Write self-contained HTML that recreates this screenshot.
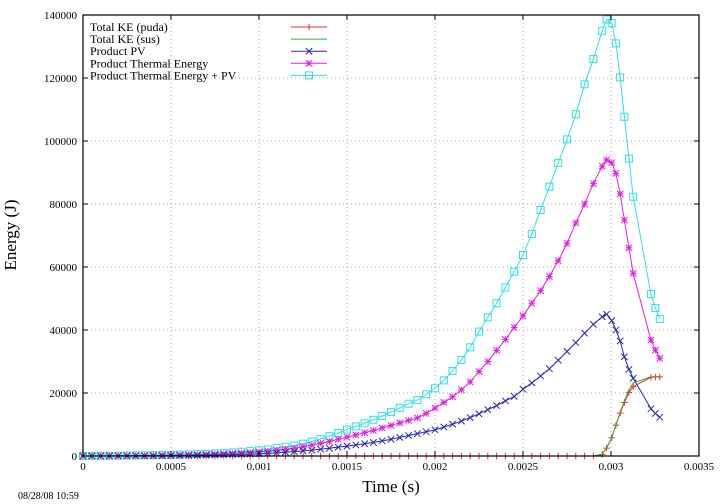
<!DOCTYPE html>
<html><head><meta charset="utf-8"><style>
body{margin:0;background:#fff}
svg{display:block;font-family:"Liberation Serif",serif}
</style></head><body>
<svg id="chart" width="720" height="504" viewBox="0 0 720 504">
<g id="grid"></g>
<g id="series"></g>
<rect x="83" y="15" width="616" height="441" fill="none" stroke="#000" stroke-width="1.2"/>
<g id="ticks"></g>
<text x="16" y="235" font-size="17" text-anchor="middle" transform="rotate(-90 16 235)">Energy (J)</text>
<text x="391" y="492" font-size="17" text-anchor="middle">Time (s)</text>
<text x="18" y="499" font-size="10">08/28/08 10:59</text>
<g id="legend"></g>
</svg>
<script>
const times=[0,0.00005,0.0001,0.00015,0.0002,0.00025,0.0003,0.00035,0.0004,0.00045,0.0005,0.00055,0.0006,0.00065,0.0007,0.00075,0.0008,0.00085,0.0009,0.00095,0.001,0.00105,0.0011,0.00115,0.0012,0.00125,0.0013,0.00135,0.0014,0.00145,0.0015,0.00155,0.0016,0.00165,0.0017,0.00175,0.0018,0.00185,0.0019,0.00195,0.002,0.00205,0.0021,0.00215,0.0022,0.00225,0.0023,0.00235,0.0024,0.00245,0.0025,0.00255,0.0026,0.00265,0.0027,0.00275,0.0028,0.00285,0.0029,0.00295,0.002975,0.003004,0.003028,0.003052,0.003076,0.003102,0.003126,0.003227,0.003252,0.003277];
const keePuda=[0,0,0,0,0,0,0,0,0,0,0,0,0,0,0,0,0,0,0,0,0,0,0,0,0,0,0,0,0,0,0,0,0,0,0,0,0,0,0,0,0,0,0,0,0,0,0,0,0,0,0,0,0,0,0,0,0,0,0,500,2500,5800,9800,13600,17000,20200,22000,25000,25100,25100];
const keeSus=[0,0,0,0,0,0,0,0,0,0,0,0,0,0,0,0,0,0,0,0,0,0,0,0,0,0,0,0,0,0,0,0,0,0,0,0,0,0,0,0,0,0,0,0,0,0,0,0,0,0,0,0,0,0,0,0,0,0,0,500,2500,5800,9800,13800,17500,21000,23200,25100,25200,25200];
const productPV=[0,5,10,20,30,40,50,60,80,100,120,150,180,220,260,310,370,440,520,610,720,850,1000,1180,1380,1600,1850,2150,2450,2800,3150,3500,3900,4300,4800,5300,5900,6500,7100,7700,8300,9200,10100,11100,12200,13400,14700,16000,17500,18900,21200,23200,25400,27700,30400,33200,36000,39000,41800,44200,45000,43000,40000,36500,31500,27500,24700,15000,13500,12300];
const thermal=[0,10,30,50,70,90,120,150,180,210,250,300,360,430,500,600,700,820,950,1100,1300,1550,1850,2150,2500,2950,3450,4000,4600,5300,6000,6700,7400,8100,8900,9700,10500,11300,12100,13500,15200,17000,18800,21000,23500,26800,30000,33500,37000,40800,44500,48500,52500,57000,62000,67500,74000,80000,86500,92000,94000,93100,89700,83200,74900,66100,58000,36800,33600,31000];
const thermalPV=[0,20,50,80,110,150,190,230,270,300,350,420,500,600,700,830,970,1150,1350,1550,1800,2100,2500,2900,3300,3900,4600,5400,6300,7300,8400,9400,10400,11500,12700,14000,15300,16600,17800,19600,21500,24000,27000,30500,34500,39500,44000,48500,53500,58500,63800,70500,78100,85500,93000,100500,108500,118000,126000,135000,138600,137400,131000,120200,107700,94400,82300,51400,47000,43500];
const xTicks=[0,0.0005,0.001,0.0015,0.002,0.0025,0.003,0.0035];
const xTickLabels=["0","0.0005","0.001","0.0015","0.002","0.0025","0.003","0.0035"];
const yTicks=[0,20000,40000,60000,80000,100000,120000,140000];
const yTickLabels=["0","20000","40000","60000","80000","100000","120000","140000"];
const legendLabels=["Total KE (puda)","Total KE (sus)","Product PV","Product Thermal Energy","Product Thermal Energy + PV"];

const X0=83,X1=699,Y0=456,Y1=15;
const xs=t=>X0+(t/0.0035)*(X1-X0);
const ys=v=>Y0-(v/140000)*(Y0-Y1);
const NS="http://www.w3.org/2000/svg";
function mk(tag,attrs,parent){const e=document.createElementNS(NS,tag);for(const k in attrs)e.setAttribute(k,attrs[k]);parent.appendChild(e);return e;}
const grid=document.getElementById('grid'),ticks=document.getElementById('ticks'),ser=document.getElementById('series'),leg=document.getElementById('legend');
xTicks.forEach((t,i)=>{const x=xs(t);
 if(i>0&&i<xTicks.length-1){const g=mk('line',{x1:x,x2:x,y1:Y1,y2:Y0,stroke:'#aaa','stroke-dasharray':'1,3'},grid);
 
 }
 mk('line',{x1:x,x2:x,y1:Y0,y2:Y0-5,stroke:'#000'},ticks);mk('line',{x1:x,x2:x,y1:Y1,y2:Y1+5,stroke:'#000'},ticks);
 const l=mk('text',{x:x,y:470,'font-size':'11','text-anchor':'middle'},ticks);l.textContent=xTickLabels[i];
 
 });
yTicks.forEach((v,i)=>{const y=ys(v);
 if(i>0&&i<yTicks.length-1){const g=mk('line',{x1:X0,x2:X1,y1:y,y2:y,stroke:'#aaa','stroke-dasharray':'1,3'},grid);
 
 }
 mk('line',{x1:X0,x2:X0+5,y1:y,y2:y,stroke:'#000'},ticks);mk('line',{x1:X1,x2:X1-5,y1:y,y2:y,stroke:'#000'},ticks);
 const l=mk('text',{x:77,y:y+4,'font-size':'11','text-anchor':'end'},ticks);l.textContent=yTickLabels[i];
 
 });
function marker(type,x,y,c,p){
 const s=3.2;
 if(type==='plus'||type==='star'){mk('line',{x1:x-s,x2:x+s,y1:y,y2:y,stroke:c},p);mk('line',{x1:x,x2:x,y1:y-s,y2:y+s,stroke:c},p);}
 if(type==='cross'||type==='star'){mk('line',{x1:x-s,x2:x+s,y1:y-s,y2:y+s,stroke:c},p);mk('line',{x1:x-s,x2:x+s,y1:y+s,y2:y-s,stroke:c},p);}
 if(type==='square'){mk('rect',{x:x-3.5,y:y-3.5,width:7,height:7,fill:'none',stroke:c},p);}
}
const seriesDefs=[[keePuda,'#e03030','plus','series-ke-puda'],[keeSus,'#30b030',null,'series-ke-sus'],[productPV,'#2828b0','cross','series-product-pv'],[thermal,'#e020e0','star','series-thermal-energy'],[thermalPV,'#30e0e0','square','series-thermal-plus-pv']];
const order=[4,3,2,0,1];
order.forEach(si=>{const [vals,c,m,name]=seriesDefs[si];
 const g=mk('g',{},ser);
 
 
 mk('polyline',{points:times.map((t,i)=>xs(t)+','+ys(vals[i])).join(' '),fill:'none',stroke:c,'stroke-width':1},g);
 if(m)times.forEach((t,i)=>marker(m,xs(t),ys(vals[i]),c,g));});
seriesDefs.forEach((d,i)=>{const y=27+i*12.1;
 const g=mk('g',{},leg);
 
 
 const t=mk('text',{x:90,y:y+4,'font-size':'12'},g);t.textContent=legendLabels[i];
 mk('line',{x1:291,x2:327,y1:y,y2:y,stroke:d[1]},g);
 if(d[2])marker(d[2],309,y,d[1],g);});
</script>
</body></html>
